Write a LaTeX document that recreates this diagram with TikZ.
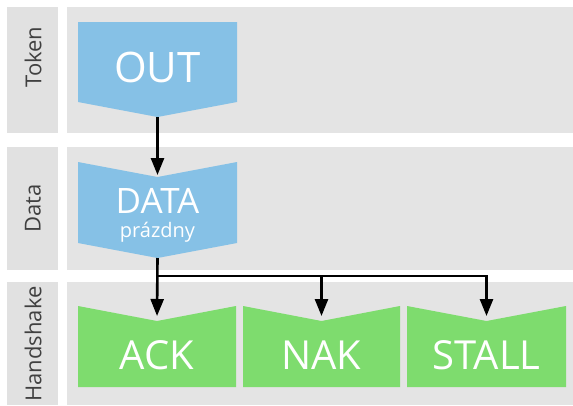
\documentclass[tikz,border=0pt]{standalone}
\usepackage{fontspec}
\setmainfont{Open Sans}
\usetikzlibrary{arrows.meta}
\definecolor{pasmo}{HTML}{E4E4E4}
\definecolor{stitek}{HTML}{E1E1E1}
\definecolor{modra}{HTML}{86C1E6}
\definecolor{zelena}{HTML}{7EDC6E}
\definecolor{popis}{HTML}{404040}

\begin{document}
\begin{tikzpicture}[x=1pt,y=-1pt,>={Triangle[length=17pt,width=13pt]},
      nazev/.style={rotate=90,text=popis,font=\fontsize{22}{26}\selectfont},
      paket/.style={text=white,inner sep=0pt,font=\fontsize{42}{46}\selectfont},
      sipka/.style={->,line width=2.6pt,black}]
    \useasboundingbox (0,0) rectangle (573,405);
    % pasma s nazvy
    \foreach \y/\h/\jm/\ty in {7/133/Token/57, 147/270/Data/208.5, 282/405/Handshake/344}{
      \fill[stitek] (7,\y) rectangle (58,\h);
      \fill[pasmo] (67,\y) rectangle (573,\h);
      \node[nazev] (lab-\jm) at (33,\ty) {\jm};
    }
    % token a data
    \fill[modra] (78,22) -- (237,22) -- (237,102) -- (157.5,117) -- (78,102) -- cycle;
    \coordinate (outhrot) at (157.5,117);
    \node[paket] (out) at (157.5,67) {OUT};
    \fill[modra] (78,162) -- (157.5,177) -- (237,162) -- (237,243) -- (157.5,258) -- (78,243) -- cycle;
    \coordinate (datazarez) at (157.5,177);
    \coordinate (datahrot) at (157.5,258);
    \node[paket,font=\fontsize{35}{38}\selectfont] (data) at (157.5,201) {DATA};
    \node[paket,font=\fontsize{20}{22}\selectfont] (prazdny) at (157.5,232) {prázdny};
    % handshake
    \foreach \x/\w/\jm in {78/236/ACK, 243/400/NAK, 407/566/STALL}{
      \fill[zelena] (\x,306) -- ({(\x+\w)/2},321) -- (\w,306) -- (\w,387) -- (\x,387) -- cycle;
      \coordinate (zarez-\jm) at ({(\x+\w)/2},321);
      \coordinate (nad-\jm) at ({(\x+\w)/2},276);
      \node[paket,font=\fontsize{40}{44}\selectfont] (\jm) at ({(\x+\w)/2},355) {\jm};
    }
    % sipky
    \draw[sipka,shorten >=2pt] (outhrot) -- (datazarez);
    \draw[sipka,shorten >=5pt] (datahrot) -- (zarez-ACK);
    \draw[sipka,shorten >=5pt] (nad-ACK) -| (zarez-STALL);
    \draw[sipka,shorten >=5pt] (nad-NAK) -- (zarez-NAK);
  \end{tikzpicture}
\end{document}
